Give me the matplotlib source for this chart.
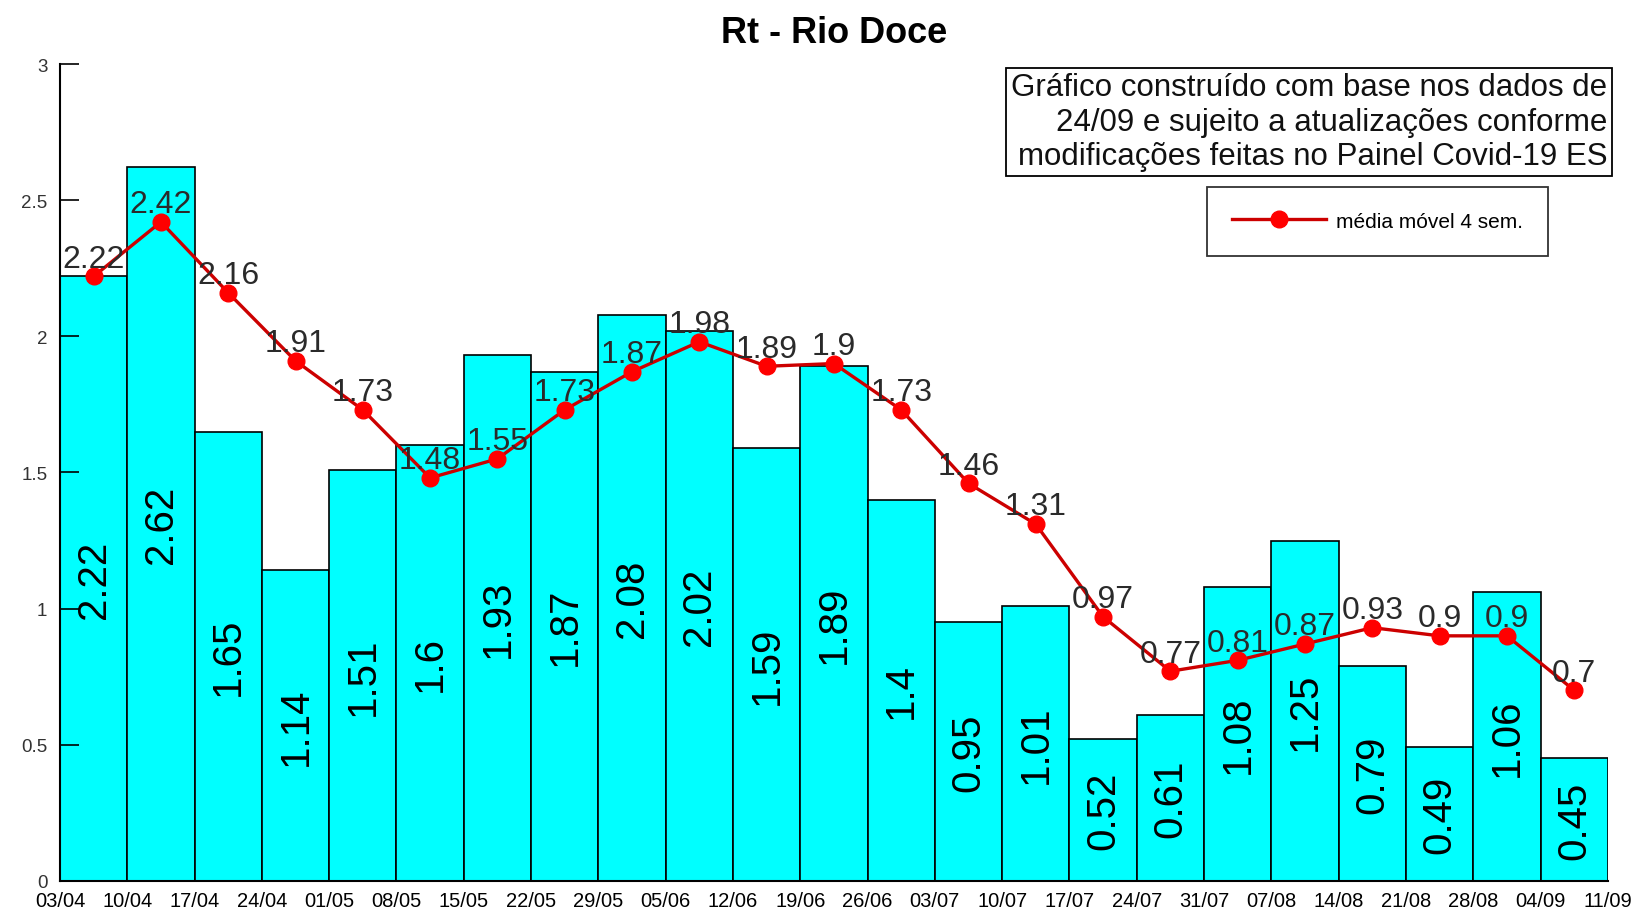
import numpy as np
import matplotlib
matplotlib.use("Agg")
import matplotlib.pyplot as plt

plt.rcParams['font.family'] = ['Liberation Sans', 'DejaVu Sans']

semanas = ["03/04", "10/04", "17/04", "24/04", "01/05", "08/05", "15/05", "22/05",
           "29/05", "05/06", "12/06", "19/06", "26/06", "03/07", "10/07", "17/07",
           "24/07", "31/07", "07/08", "14/08", "21/08", "28/08", "04/09", "11/09"]
rt_semanal = [2.22, 2.62, 1.65, 1.14, 1.51, 1.6, 1.93, 1.87, 2.08, 2.02, 1.59, 1.89,
              1.4, 0.95, 1.01, 0.52, 0.61, 1.08, 1.25, 0.79, 0.49, 1.06, 0.45]
media_movel = [2.22, 2.42, 2.16, 1.91, 1.73, 1.48, 1.55, 1.73, 1.87, 1.98, 1.89, 1.9,
               1.73, 1.46, 1.31, 0.97, 0.77, 0.81, 0.87, 0.93, 0.9, 0.9, 0.7]

fig = plt.figure(figsize=(16.38, 9.12), dpi=100)
ax = fig.add_axes([0.0366, 0.033, 0.945, 0.8957])

x = np.arange(len(rt_semanal)) + 0.5
ax.bar(x, rt_semanal, width=1.0, color='#00ffff', edgecolor='black', linewidth=1.2, zorder=1)

# valores semanais dentro das barras
for xi, v in zip(x, rt_semanal):
    ax.text(xi, max(v / 2, 0.16), f"{v:g}", rotation=90, ha='center', va='center',
            fontsize=29, color='black', zorder=4)

ax.plot(x, media_movel, color='#cc0000', linewidth=2.4, marker='o', markersize=12,
        markerfacecolor='#ff0000', markeredgecolor='#ff0000', label='média móvel 4 sem.', zorder=3)

for xi, v in zip(x, media_movel):
    ax.text(xi, v + 0.01, f"{v:g}", ha='center', va='bottom', fontsize=23,
            color='#2a2a2a', zorder=5)

ax.set_xlim(0, len(rt_semanal))
ax.set_ylim(0, 3)
ax.set_xticks(np.arange(len(semanas)))
ax.set_xticklabels(semanas, fontsize=14.5)
ax.set_yticks(np.arange(0, 3.01, 0.5))
ax.set_yticklabels(["0", "0.5", "1", "1.5", "2", "2.5", "3"], fontsize=13.5, color='#333333')
ax.tick_params(axis='x', length=0, pad=7)
ax.tick_params(axis='y', direction='in', length=14, width=1.2, pad=9)
ax.spines['top'].set_visible(False)
ax.spines['right'].set_visible(False)
ax.spines['left'].set_linewidth(1.5)
ax.spines['bottom'].set_linewidth(1.5)

ax.set_title("Rt - Rio Doce", fontsize=26, fontweight='bold', pad=16)

ax.text(0.9995, 0.99, "Gráfico construído com base nos dados de\n24/09 e sujeito a atualizações conforme\nmodificações feitas no Painel Covid-19 ES",
        transform=ax.transAxes, ha='right', va='top', fontsize=22.5, color='#111111',
        multialignment='right', linespacing=1.2,
        bbox=dict(boxstyle='square,pad=0.15', facecolor='white', edgecolor='black', linewidth=1.3),
        zorder=6)

leg = ax.legend(loc='upper left', bbox_to_anchor=(0.741, 0.85), fontsize=15,
                frameon=True, fancybox=False, edgecolor='black', handlelength=4.5,
                borderpad=1.2, handletextpad=0.5, borderaxespad=0)
leg.get_frame().set_linewidth(1.3)

fig.savefig("out.png", dpi=100)
plt.close(fig)
